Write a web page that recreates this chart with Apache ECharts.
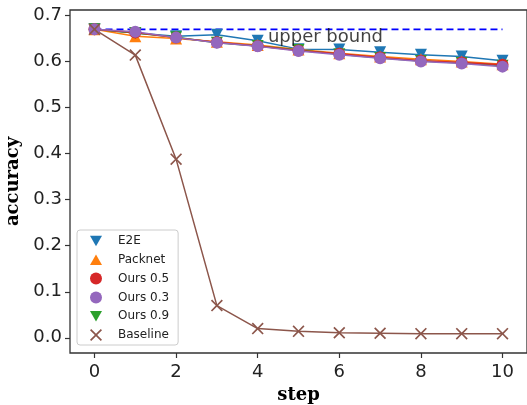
<!DOCTYPE html>
<html>
<head>
<meta charset="utf-8">
<script src="https://cdn.jsdelivr.net/npm/echarts@6/dist/echarts.min.js"></script>
<style>
  html, body { margin: 0; padding: 0; background: #fff; }
  #chart { width: 527px; height: 405px; }
</style>
</head>
<body>
<div id="chart"></div>
<script>
// accuracy per training step for each method
const steps = [0, 1, 2, 3, 4, 5, 6, 7, 8, 9, 10];
const e2e      = [0.670, 0.662, 0.655, 0.658, 0.645, 0.627, 0.626, 0.620, 0.615, 0.611, 0.602];
const packnet  = [0.670, 0.655, 0.650, 0.643, 0.636, 0.626, 0.618, 0.611, 0.605, 0.600, 0.594];
const ours05   = [0.670, 0.663, 0.652, 0.642, 0.634, 0.624, 0.617, 0.609, 0.602, 0.598, 0.593];
const ours03   = [0.670, 0.665, 0.652, 0.641, 0.633, 0.623, 0.615, 0.607, 0.600, 0.596, 0.589];
const ours09   = [0.670, 0.662, 0.653, 0.641, 0.634, 0.625, 0.616, 0.608, 0.601, 0.597, 0.591];
const baseline = [0.670, 0.614, 0.388, 0.070, 0.020, 0.014, 0.011, 0.010, 0.009, 0.009, 0.009];
const upperBound = 0.67;
const upperBoundLabel = 'upper bound';
const xTicks = [0, 2, 4, 6, 8, 10];
const yTicks = [0.0, 0.1, 0.2, 0.3, 0.4, 0.5, 0.6, 0.7];

const downTri = 'path://M0,0 L10,0 L5,8.66 Z';
const upTri = 'path://M5,0 L10,8.66 L0,8.66 Z';
const xMark = 'path://M0,1 L1,0 L5,4 L9,0 L10,1 L6,5 L10,9 L9,10 L5,6 L1,10 L0,9 L4,5 Z';

const pairs = ys => steps.map((s, i) => [s, ys[i]]);

function lineSeries(name, ys, color, symbol, size) {
  return {
    name, type: 'line', data: pairs(ys),
    symbol, symbolSize: size, showSymbol: true,
    lineStyle: { color, width: 1.5 },
    itemStyle: { color },
    emphasis: { disabled: true },
    z: 3
  };
}

const font = 'DejaVu Sans';
const chart = echarts.init(document.getElementById('chart'), null, { renderer: 'canvas' });
chart.setOption({
  animation: false,
  backgroundColor: '#fff',
  grid: {
    left: 70, right: 0, top: 10, bottom: 52,
    outerBoundsMode: 'none', containLabel: false,
    show: true, borderColor: '#333', borderWidth: 1.3, backgroundColor: 'transparent'
  },
  xAxis: {
    type: 'value', min: -0.6, max: 10.6,
    name: 'step', nameLocation: 'middle', nameGap: 31,
    nameTextStyle: { fontFamily: 'DejaVu Serif', fontWeight: 'bold', fontSize: 18, color: '#000' },
    axisLine: { show: false, onZero: false },
    splitLine: { show: false },
    axisTick: { show: true, length: 5, inside: false, customValues: xTicks, lineStyle: { color: '#333', width: 1.2 } },
    axisLabel: { customValues: xTicks, fontFamily: font, fontSize: 18, color: '#222', margin: 10 }
  },
  yAxis: {
    type: 'value', min: -0.033, max: 0.712,
    name: 'accuracy', nameLocation: 'middle', nameGap: 44, nameRotate: 90,
    nameTextStyle: { fontFamily: 'DejaVu Serif', fontWeight: 'bold', fontSize: 18, color: '#000' },
    axisLine: { show: false, onZero: false },
    splitLine: { show: false },
    axisTick: { show: true, length: 5, inside: false, customValues: yTicks, lineStyle: { color: '#333', width: 1.2 } },
    axisLabel: { customValues: yTicks, fontFamily: font, fontSize: 18, color: '#222', margin: 8,
      formatter: v => v.toFixed(1) }
  },
  legend: {
    orient: 'vertical', left: 77, top: 230,
    backgroundColor: '#fff', borderColor: '#ccc', borderWidth: 1, borderRadius: 3,
    padding: [5, 9, 4, 13],
    itemWidth: 12, itemHeight: 12, itemGap: 6.8,
    textStyle: { fontFamily: font, fontSize: 12, color: '#222', padding: [0, 0, 0, 11], lineHeight: 12 },
    selectedMode: false,
    data: [
      { name: 'E2E', icon: downTri, itemStyle: { color: '#1f77b4' } },
      { name: 'Packnet', icon: upTri, itemStyle: { color: '#ff7f0e' } },
      { name: 'Ours 0.5', icon: 'circle', itemStyle: { color: '#d62728' } },
      { name: 'Ours 0.3', icon: 'circle', itemStyle: { color: '#9467bd' } },
      { name: 'Ours 0.9', icon: downTri, itemStyle: { color: '#2ca02c' } },
      { name: 'Baseline', icon: xMark, itemStyle: { color: '#8c564b' } }
    ]
  },
  series: [
    {
      name: 'upper', type: 'line', data: [[steps[0], upperBound], [steps[steps.length - 1], upperBound]],
      symbol: 'none', lineStyle: { color: '#0000ff', width: 1.6, type: [7, 4] },
      emphasis: { disabled: true }, z: 2
    },
    lineSeries('E2E', e2e, '#1f77b4', downTri, 12),
    lineSeries('Packnet', packnet, '#ff7f0e', upTri, 12),
    lineSeries('Ours 0.9', ours09, '#2ca02c', downTri, 12),
    lineSeries('Ours 0.5', ours05, '#d62728', 'circle', 12),
    lineSeries('Ours 0.3', ours03, '#9467bd', 'circle', 12),
    lineSeries('Baseline', baseline, '#8c564b', xMark, 12),
    {
      name: 'label', type: 'scatter', data: [[4.25, 0.652]],
      symbolSize: 0, silent: true, z: 5,
      label: { show: true, position: 'right', distance: 0, formatter: upperBoundLabel,
        fontFamily: font, fontSize: 18, color: '#111' }
    }
  ]
});
</script>
</body>
</html>
